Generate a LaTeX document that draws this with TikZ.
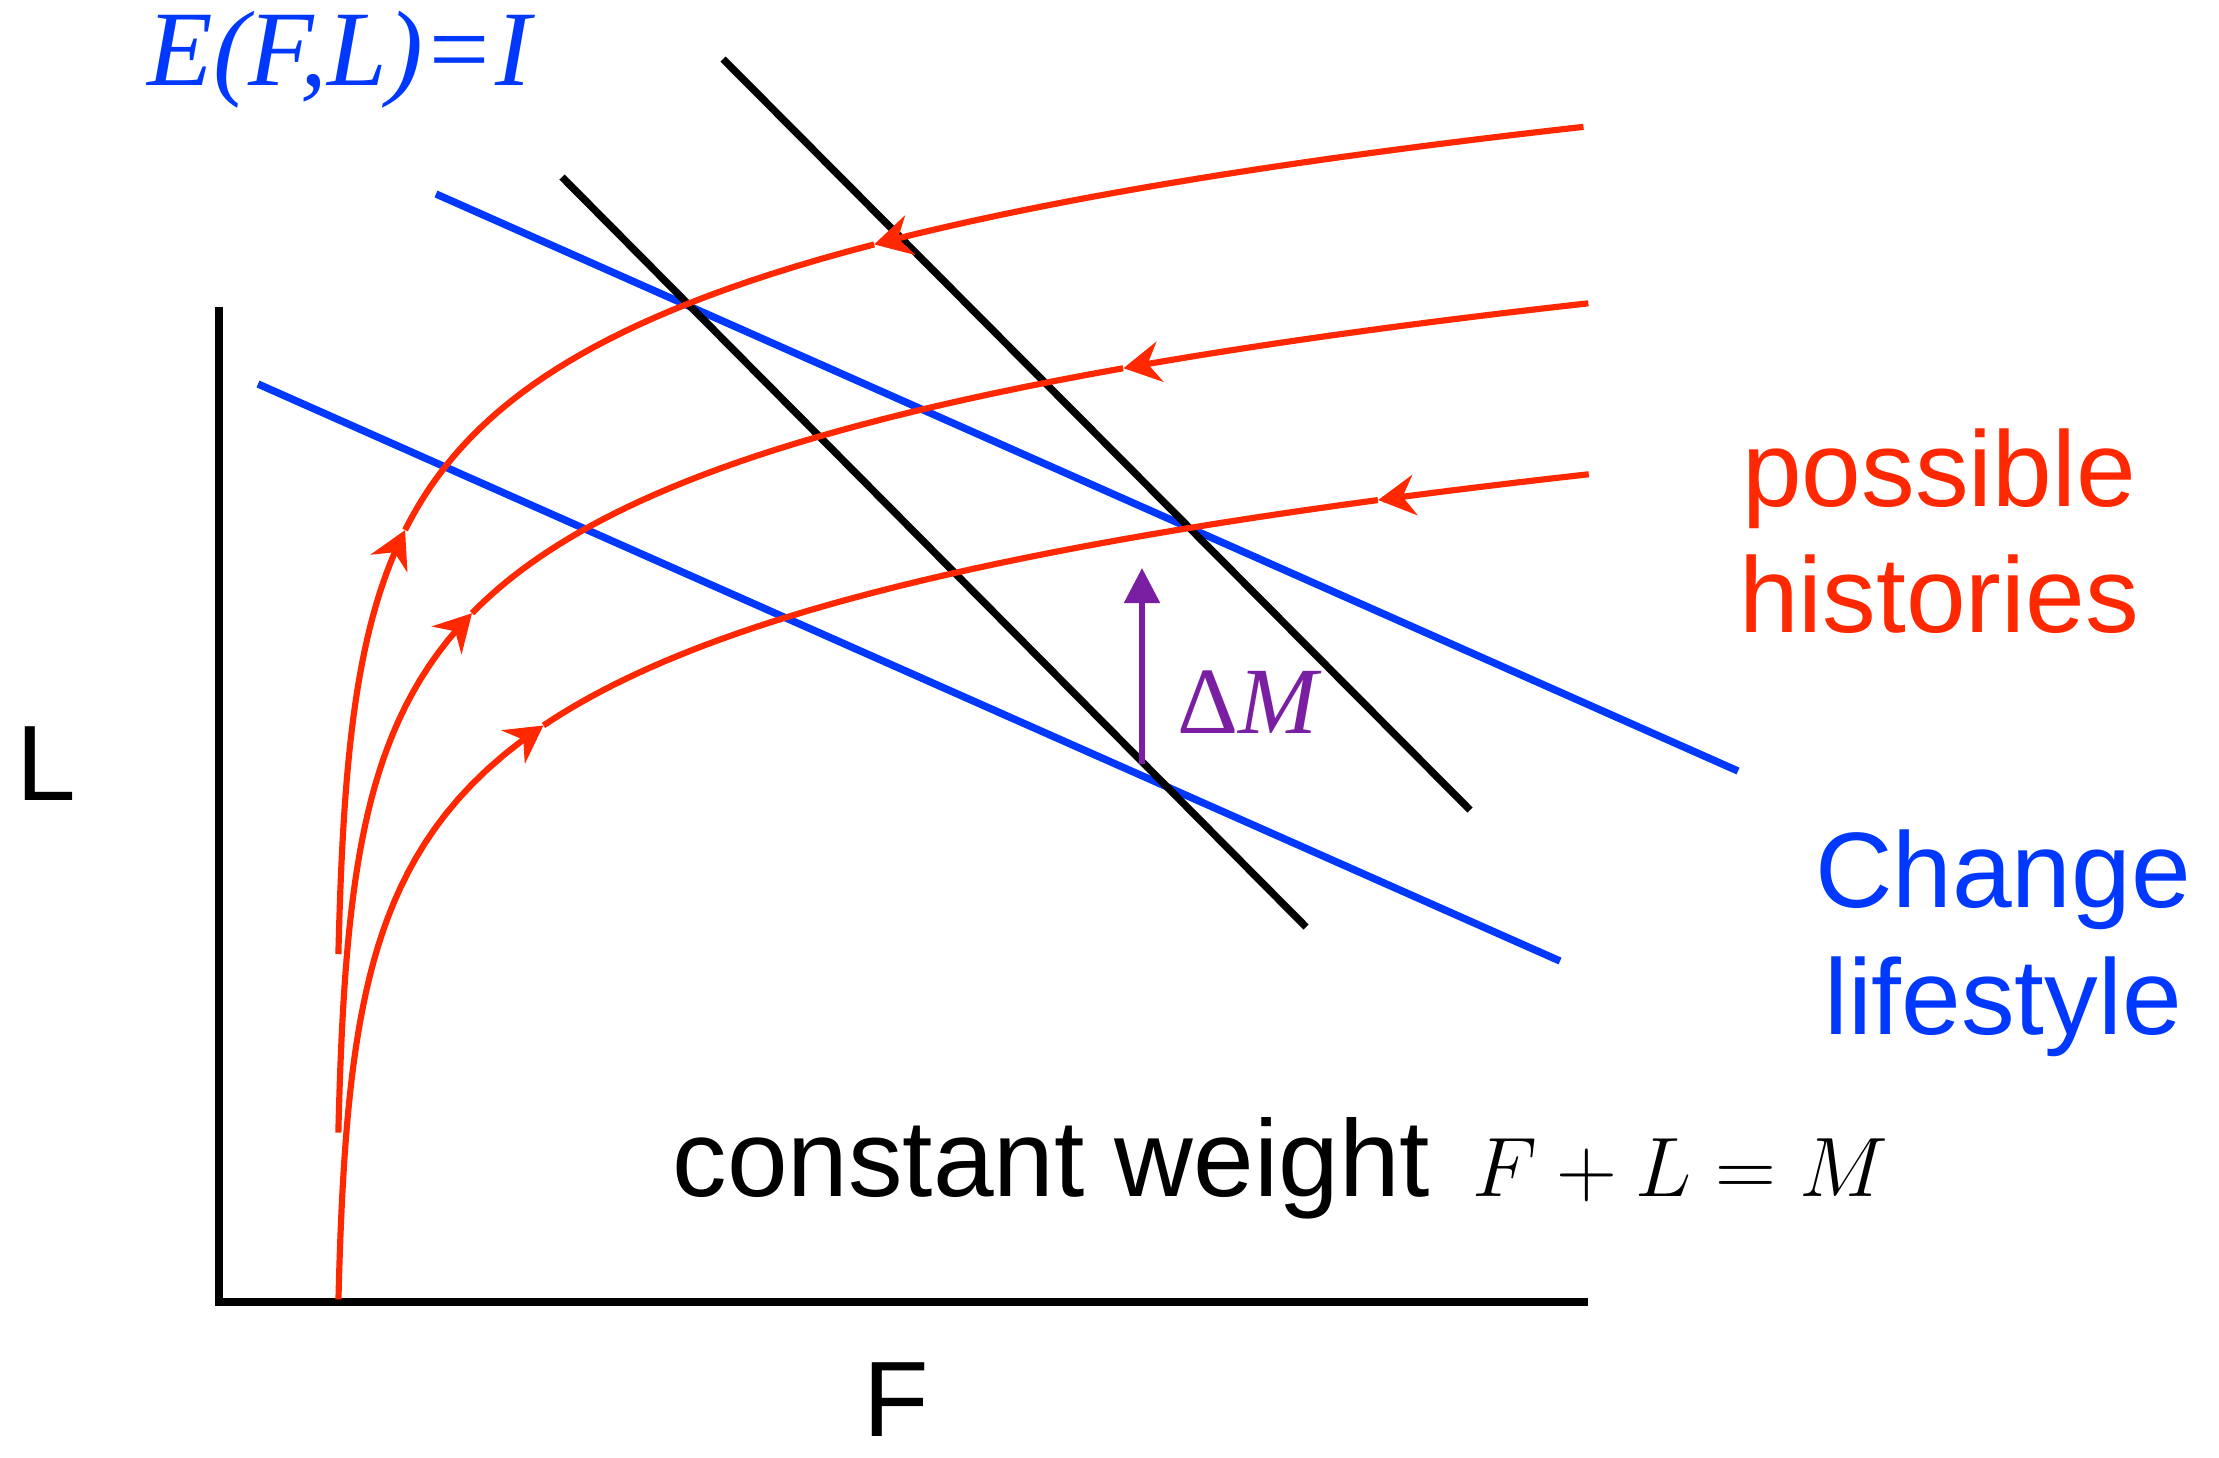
\documentclass[tikz,border=0pt]{standalone}
\usepackage{fix-cm}
\usepackage[no-math]{fontspec}
\setmainfont{Liberation Sans}
\newfontfamily\timesfont{Liberation Serif}
\usetikzlibrary{arrows.meta}
\definecolor{histred}{RGB}{255,40,0}
\definecolor{styleblue}{RGB}{0,56,255}
\definecolor{deltapurple}{RGB}{122,31,162}

\begin{document}
\begin{tikzpicture}[
  x=0.01cm, y=-0.01cm,
  every node/.style={inner sep=0pt},
  >={Stealth[length=10.5pt, width=11.5pt, inset=3.5pt]},
  axis/.style={line width=2.2pt},
  weightline/.style={line width=2.1pt},
  lifeline/.style={styleblue, line width=2.1pt},
  history/.style={histred, line width=1.75pt, variable=\t, samples=40},
  bigtext/.style={font=\fontsize{30.5}{36}\selectfont}
]
\useasboundingbox (0,0) rectangle (2219,1457);

% Axes
\coordinate (origin) at (219,1302);
\coordinate (ytop) at (219,307);
\coordinate (xend) at (1588,1302);
\draw[axis] (ytop) -- (origin) -- (xend);
\node[bigtext, anchor=base] (Llabel) at (46,800) {L};
\node[bigtext, anchor=base] (Flabel) at (896,1436) {F};

% Lines of equal energy (change lifestyle)
\coordinate (lifeA1) at (436,194);
\coordinate (lifeA2) at (1738,771);
\coordinate (lifeB1) at (258,384);
\coordinate (lifeB2) at (1560,961);
\draw[lifeline] (lifeA1) -- (lifeA2);
\draw[lifeline] (lifeB1) -- (lifeB2);

% Lines of constant weight
\coordinate (weightA1) at (562,177);
\coordinate (weightA2) at (1306,927);
\coordinate (weightB1) at (723,59);
\coordinate (weightB2) at (1470,810);
\draw[weightline] (weightA1) -- (weightA2);
\draw[weightline] (weightB1) -- (weightB2);

% Possible histories
\draw[history, ->] plot[domain=1.22:4.25] ({335+exp(\t)}, {1125-140*\t});
\draw[history] plot[domain=4.25:6.29] ({335+exp(\t)}, {1125-140*\t});
\draw[history, <-] plot[domain=6.29:7.13] ({335+exp(\t)}, {1125-140*\t});

\draw[history, ->] plot[domain=1.21:4.92] ({335+exp(\t)}, {1302-140*\t});
\draw[history] plot[domain=4.92:6.67] ({335+exp(\t)}, {1302-140*\t});
\draw[history, <-] plot[domain=6.67:7.134] ({335+exp(\t)}, {1302-140*\t});

\draw[history, ->] plot[domain=1.24:5.34] ({335+exp(\t)}, {1473-140*\t});
\draw[history] plot[domain=5.34:6.95] ({335+exp(\t)}, {1473-140*\t});
\draw[history, <-] plot[domain=6.95:7.134] ({335+exp(\t)}, {1473-140*\t});

% Change of mass
\coordinate (massbot) at (1142,764);
\coordinate (masstop) at (1142,568);
\draw[deltapurple, line width=1.5pt, -{Triangle[length=10pt, width=10pt]}] (massbot) -- (masstop);
\node[deltapurple, anchor=base west, font=\fontsize{27}{32}\selectfont\timesfont] (deltaM) at (1177,733) {Δ\itshape M};

% Labels
\node[styleblue, anchor=base west, font=\fontsize{30.5}{36}\selectfont\timesfont\itshape] (energy) at (147,85) {E(F,L)=I};
\node[histred, bigtext, align=center] (histories) at (1939,531) {possible\\histories};
\node[styleblue, bigtext, align=center] (lifestyle) at (2003,943) {Change\\lifestyle};
\node[anchor=base west, font=\fontsize{31}{36}\selectfont] (weight) at (672,1196) {constant weight};
\node[anchor=base west, font=\fontsize{24}{29}\selectfont] (weighteq) at (1472,1196) {$F+L=M$};

\end{tikzpicture}
\end{document}
